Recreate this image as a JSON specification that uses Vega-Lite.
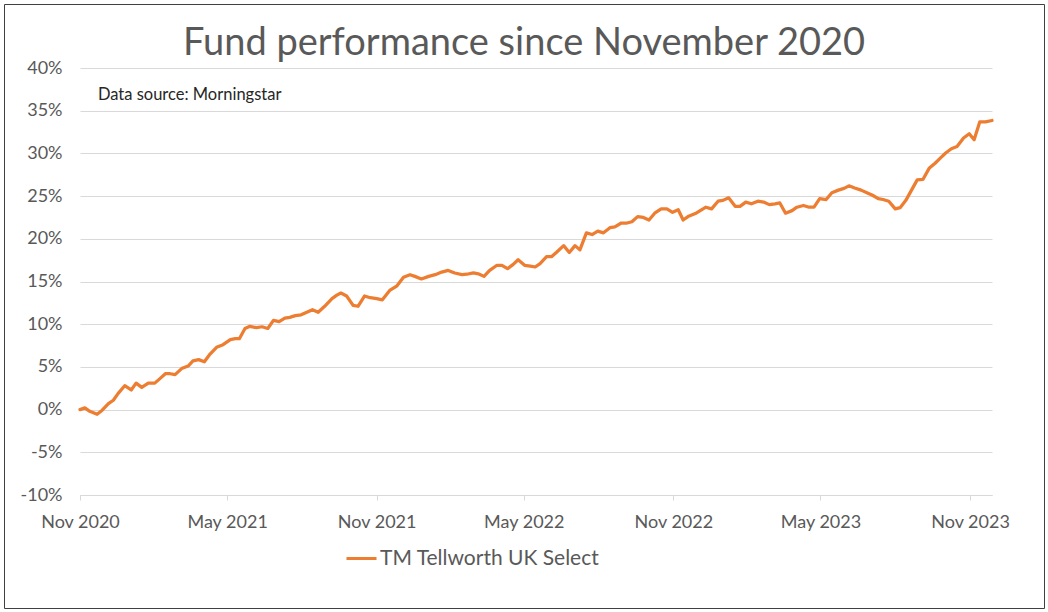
{
  "$schema": "https://vega.github.io/schema/vega-lite/v6.json",
  "width": 1040,
  "height": 604,
  "autosize": {"type": "none"},
  "padding": {"left": 4, "top": 4, "right": 4, "bottom": 4},
  "background": "white",
  "config": {"view": {"stroke": "#404040", "strokeWidth": 1}, "font": "Lato"},
  "title": {"text": "Fund performance since November 2020", "fontSize": 38, "font": "Lato", "fontWeight": "normal", "color": "#595959", "anchor": "middle", "frame": "group", "offset": -59},
  "layer": [
    {
      "data": {"values": [
        {"date": "2020-11-01", "v": 0.0},
        {"date": "2020-11-07", "v": 0.2},
        {"date": "2020-11-13", "v": -0.2},
        {"date": "2020-11-22", "v": -0.55},
        {"date": "2020-11-28", "v": -0.1},
        {"date": "2020-12-06", "v": 0.7},
        {"date": "2020-12-12", "v": 1.1},
        {"date": "2020-12-18", "v": 1.9},
        {"date": "2020-12-26", "v": 2.8},
        {"date": "2021-01-03", "v": 2.3},
        {"date": "2021-01-09", "v": 3.1},
        {"date": "2021-01-16", "v": 2.6},
        {"date": "2021-01-24", "v": 3.1},
        {"date": "2021-02-01", "v": 3.1},
        {"date": "2021-02-07", "v": 3.6},
        {"date": "2021-02-14", "v": 4.2},
        {"date": "2021-02-20", "v": 4.2},
        {"date": "2021-02-26", "v": 4.1},
        {"date": "2021-03-06", "v": 4.8},
        {"date": "2021-03-14", "v": 5.1},
        {"date": "2021-03-20", "v": 5.7},
        {"date": "2021-03-27", "v": 5.85},
        {"date": "2021-04-03", "v": 5.6},
        {"date": "2021-04-10", "v": 6.5},
        {"date": "2021-04-18", "v": 7.3},
        {"date": "2021-04-26", "v": 7.6},
        {"date": "2021-05-05", "v": 8.2},
        {"date": "2021-05-11", "v": 8.3},
        {"date": "2021-05-16", "v": 8.3},
        {"date": "2021-05-23", "v": 9.5},
        {"date": "2021-05-29", "v": 9.75},
        {"date": "2021-06-06", "v": 9.6},
        {"date": "2021-06-13", "v": 9.7},
        {"date": "2021-06-20", "v": 9.5},
        {"date": "2021-06-27", "v": 10.45},
        {"date": "2021-07-04", "v": 10.3},
        {"date": "2021-07-11", "v": 10.7},
        {"date": "2021-07-17", "v": 10.8},
        {"date": "2021-07-24", "v": 11.0},
        {"date": "2021-07-31", "v": 11.1},
        {"date": "2021-08-07", "v": 11.4},
        {"date": "2021-08-14", "v": 11.7},
        {"date": "2021-08-21", "v": 11.4},
        {"date": "2021-08-29", "v": 12.1},
        {"date": "2021-09-07", "v": 13.0},
        {"date": "2021-09-13", "v": 13.4},
        {"date": "2021-09-18", "v": 13.65},
        {"date": "2021-09-25", "v": 13.3},
        {"date": "2021-10-03", "v": 12.2},
        {"date": "2021-10-09", "v": 12.1},
        {"date": "2021-10-17", "v": 13.3},
        {"date": "2021-10-24", "v": 13.1},
        {"date": "2021-11-01", "v": 13.0},
        {"date": "2021-11-08", "v": 12.85},
        {"date": "2021-11-17", "v": 13.95},
        {"date": "2021-11-26", "v": 14.5},
        {"date": "2021-12-04", "v": 15.5},
        {"date": "2021-12-12", "v": 15.8},
        {"date": "2021-12-18", "v": 15.6},
        {"date": "2021-12-26", "v": 15.3},
        {"date": "2022-01-04", "v": 15.6},
        {"date": "2022-01-12", "v": 15.8},
        {"date": "2022-01-20", "v": 16.1},
        {"date": "2022-01-28", "v": 16.3},
        {"date": "2022-02-05", "v": 16.0},
        {"date": "2022-02-14", "v": 15.8},
        {"date": "2022-02-20", "v": 15.85},
        {"date": "2022-02-28", "v": 16.0},
        {"date": "2022-03-06", "v": 15.9},
        {"date": "2022-03-13", "v": 15.6},
        {"date": "2022-03-20", "v": 16.3},
        {"date": "2022-03-29", "v": 16.9},
        {"date": "2022-04-04", "v": 16.9},
        {"date": "2022-04-11", "v": 16.5},
        {"date": "2022-04-18", "v": 17.0},
        {"date": "2022-04-24", "v": 17.55},
        {"date": "2022-05-02", "v": 16.9},
        {"date": "2022-05-09", "v": 16.8},
        {"date": "2022-05-15", "v": 16.7},
        {"date": "2022-05-21", "v": 17.1},
        {"date": "2022-05-29", "v": 17.9},
        {"date": "2022-06-04", "v": 17.9},
        {"date": "2022-06-10", "v": 18.4},
        {"date": "2022-06-19", "v": 19.2},
        {"date": "2022-06-26", "v": 18.4},
        {"date": "2022-07-03", "v": 19.2},
        {"date": "2022-07-09", "v": 18.7},
        {"date": "2022-07-17", "v": 20.7},
        {"date": "2022-07-24", "v": 20.5},
        {"date": "2022-07-31", "v": 20.9},
        {"date": "2022-08-07", "v": 20.7},
        {"date": "2022-08-15", "v": 21.3},
        {"date": "2022-08-21", "v": 21.4},
        {"date": "2022-08-29", "v": 21.85},
        {"date": "2022-09-05", "v": 21.85},
        {"date": "2022-09-11", "v": 22.0},
        {"date": "2022-09-18", "v": 22.6},
        {"date": "2022-09-25", "v": 22.5},
        {"date": "2022-10-02", "v": 22.2},
        {"date": "2022-10-09", "v": 23.0},
        {"date": "2022-10-17", "v": 23.5},
        {"date": "2022-10-24", "v": 23.5},
        {"date": "2022-10-31", "v": 23.1},
        {"date": "2022-11-07", "v": 23.4},
        {"date": "2022-11-13", "v": 22.2},
        {"date": "2022-11-19", "v": 22.6},
        {"date": "2022-11-28", "v": 22.95},
        {"date": "2022-12-04", "v": 23.3},
        {"date": "2022-12-11", "v": 23.7},
        {"date": "2022-12-18", "v": 23.5},
        {"date": "2022-12-26", "v": 24.4},
        {"date": "2023-01-01", "v": 24.5},
        {"date": "2023-01-08", "v": 24.8},
        {"date": "2023-01-16", "v": 23.8},
        {"date": "2023-01-22", "v": 23.8},
        {"date": "2023-01-29", "v": 24.3},
        {"date": "2023-02-05", "v": 24.1},
        {"date": "2023-02-13", "v": 24.4},
        {"date": "2023-02-20", "v": 24.3},
        {"date": "2023-02-27", "v": 24.0},
        {"date": "2023-03-06", "v": 24.1},
        {"date": "2023-03-12", "v": 24.2},
        {"date": "2023-03-19", "v": 23.0},
        {"date": "2023-03-27", "v": 23.3},
        {"date": "2023-04-02", "v": 23.7},
        {"date": "2023-04-10", "v": 23.9},
        {"date": "2023-04-17", "v": 23.7},
        {"date": "2023-04-23", "v": 23.7},
        {"date": "2023-04-30", "v": 24.7},
        {"date": "2023-05-08", "v": 24.6},
        {"date": "2023-05-15", "v": 25.4},
        {"date": "2023-05-23", "v": 25.7},
        {"date": "2023-05-30", "v": 25.9},
        {"date": "2023-06-05", "v": 26.2},
        {"date": "2023-06-12", "v": 25.95},
        {"date": "2023-06-20", "v": 25.7},
        {"date": "2023-06-27", "v": 25.4},
        {"date": "2023-07-04", "v": 25.1},
        {"date": "2023-07-11", "v": 24.7},
        {"date": "2023-07-17", "v": 24.6},
        {"date": "2023-07-24", "v": 24.4},
        {"date": "2023-08-01", "v": 23.5},
        {"date": "2023-08-07", "v": 23.65},
        {"date": "2023-08-14", "v": 24.5},
        {"date": "2023-08-21", "v": 25.7},
        {"date": "2023-08-28", "v": 26.9},
        {"date": "2023-09-04", "v": 26.95},
        {"date": "2023-09-12", "v": 28.3},
        {"date": "2023-09-19", "v": 28.85},
        {"date": "2023-09-26", "v": 29.5},
        {"date": "2023-10-02", "v": 30.05},
        {"date": "2023-10-09", "v": 30.55},
        {"date": "2023-10-16", "v": 30.8},
        {"date": "2023-10-24", "v": 31.8},
        {"date": "2023-10-31", "v": 32.3},
        {"date": "2023-11-06", "v": 31.6},
        {"date": "2023-11-13", "v": 33.7},
        {"date": "2023-11-20", "v": 33.7},
        {"date": "2023-11-28", "v": 33.85}
      ]},
      "mark": {"type": "line", "strokeWidth": 3.25, "strokeJoin": "round", "strokeCap": "round"},
      "encoding": {
        "x": {
          "field": "date", "type": "temporal",
          "scale": {"type": "utc", "nice": false, "range": [76, 988],
            "domain": [{"year": 2020, "month": 11, "date": 1, "utc": true}, {"year": 2023, "month": 11, "date": 28, "utc": true}]},
          "axis": {
            "title": null, "format": "%b %Y", "grid": false,
            "values": [
              {"year": 2020, "month": 11, "date": 1, "utc": true},
              {"year": 2021, "month": 5, "date": 1, "utc": true},
              {"year": 2021, "month": 11, "date": 1, "utc": true},
              {"year": 2022, "month": 5, "date": 1, "utc": true},
              {"year": 2022, "month": 11, "date": 1, "utc": true},
              {"year": 2023, "month": 5, "date": 1, "utc": true},
              {"year": 2023, "month": 11, "date": 1, "utc": true}
            ],
            "offset": -113, "labelFontSize": 18, "labelFont": "Lato", "labelColor": "#595959",
            "domainColor": "#D9D9D9", "tickColor": "#D9D9D9", "tickSize": 5, "labelPadding": 13,
            "labelFlush": false, "labelOverlap": false
          }
        },
        "y": {
          "field": "v", "type": "quantitative",
          "scale": {"domain": [-10, 40], "range": [491, 64], "nice": false, "zero": false},
          "axis": {
            "title": null, "values": [-10, -5, 0, 5, 10, 15, 20, 25, 30, 35, 40],
            "labelExpr": "datum.value + '%'", "grid": true, "gridColor": "#D9D9D9", "gridWidth": 1,
            "domain": false, "ticks": false, "labelPadding": 18, "offset": -76,
            "labelFontSize": 18, "labelFont": "Lato", "labelColor": "#595959"
          }
        },
        "color": {
          "datum": "TM Tellworth UK Select", "type": "nominal",
          "scale": {"range": ["#ED7D31"]},
          "legend": {
            "orient": "none", "legendX": 341, "legendY": 538, "title": null,
            "symbolType": "stroke", "symbolSize": 900, "symbolStrokeWidth": 3,
            "labelFontSize": 21, "labelFont": "Lato", "labelColor": "#595959", "labelLimit": 500,
            "padding": 0, "labelOffset": 2
          }
        }
      }
    },
    {
      "data": {"values": [{}]},
      "mark": {"type": "text", "text": "Data source: Morningstar", "align": "left", "baseline": "middle", "fontSize": 16.5, "font": "Lato", "color": "#262626"},
      "encoding": {
        "x": {"datum": {"year": 2020, "month": 11, "date": 23, "utc": true}, "type": "temporal"},
        "y": {"datum": 36.8, "type": "quantitative"}
      }
    }
  ]
}
